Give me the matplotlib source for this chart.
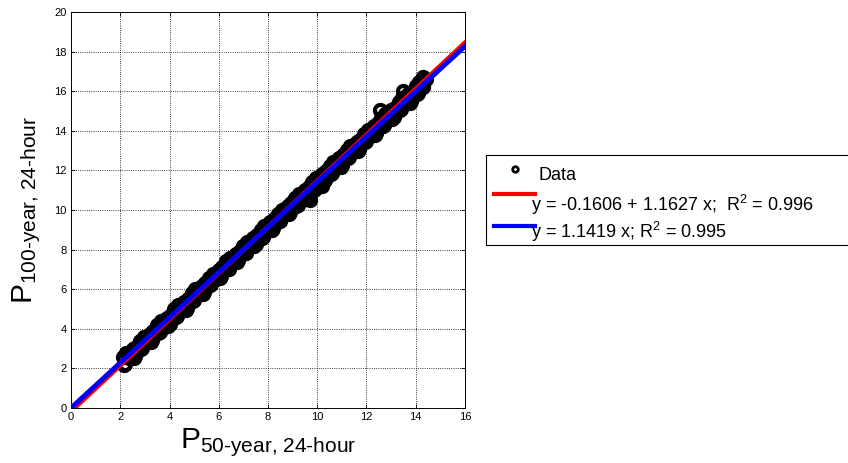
import numpy as np
import matplotlib
matplotlib.use('Agg')
import matplotlib.pyplot as plt
from matplotlib.lines import Line2D
from matplotlib.patches import Rectangle

plt.rcParams['font.family'] = ['Liberation Sans', 'DejaVu Sans']
plt.rcParams['mathtext.fontset'] = 'custom'
plt.rcParams['mathtext.rm'] = 'Liberation Sans'
plt.rcParams['mathtext.it'] = 'Liberation Sans'

# scatter data (50-year vs 100-year, 24-hour)
p50_a = [2.1, 2.2, 2.3, 2.4, 2.5, 2.6, 2.7, 2.8, 2.9, 3.0, 3.1, 3.2, 3.3, 3.4, 3.5, 3.6,
         3.7, 3.8, 3.9, 4.0, 4.1, 4.2, 4.3, 4.4, 4.5, 4.6, 4.7, 4.8, 4.9, 5.0, 5.1, 5.2,
         5.3, 5.4, 5.5, 5.6, 5.7, 5.8, 5.9, 6.0, 6.1, 6.2, 6.3, 6.4, 6.5, 6.6, 6.7, 6.8,
         6.9, 7.0, 7.1, 7.2, 7.3, 7.4, 7.5, 7.6, 7.7, 7.8, 7.9, 8.0, 8.1, 8.2, 8.3, 8.4,
         8.5, 8.6, 8.7, 8.8, 8.9, 9.0, 9.1, 9.2, 9.3, 9.4, 9.5, 9.6, 9.7, 9.8, 9.9, 10.0,
         10.1, 10.2, 10.3, 10.4, 10.5, 10.6, 10.7, 10.8, 10.9, 11.0, 11.1, 11.2, 11.3, 11.4,
         11.5, 11.6, 11.7, 11.8, 11.9, 12.0, 12.1, 12.2, 12.3, 12.4, 12.5, 12.6, 12.7, 12.8,
         12.9, 13.0, 13.1, 13.2, 13.3, 13.4, 13.5, 13.6, 13.7, 13.8, 13.9, 14.0, 14.1, 14.2,
         14.3, 14.4, 12.55, 14.3, 13.5, 9.7, 10.2]
p100_a = [2.57, 2.21, 2.61, 2.54, 2.96, 2.63, 3.01, 3.37, 3.02, 3.41, 3.35, 3.76, 3.44, 3.81,
          4.18, 3.82, 4.22, 4.15, 4.57, 4.24, 4.62, 4.98, 4.63, 5.02, 4.96, 5.37, 5.05, 5.42,
          5.79, 5.43, 5.83, 5.76, 6.18, 5.85, 6.23, 6.59, 6.24, 6.63, 6.57, 6.98, 6.66, 7.03,
          7.40, 7.04, 7.44, 7.37, 7.79, 7.46, 7.84, 8.20, 7.85, 8.24, 8.18, 8.59, 8.27, 8.64,
          9.01, 8.65, 9.05, 8.98, 9.40, 9.07, 9.45, 9.81, 9.46, 9.85, 9.79, 10.20, 9.88, 10.25,
          10.62, 10.26, 10.66, 10.59, 11.01, 10.68, 11.06, 11.42, 11.07, 11.46, 11.40, 11.81,
          11.49, 11.86, 12.23, 11.87, 12.27, 12.20, 12.62, 12.29, 12.67, 13.03, 12.68, 13.07,
          13.01, 13.42, 13.10, 13.47, 13.84, 13.48, 13.88, 13.81, 14.23, 13.90, 14.28, 14.64,
          14.29, 14.68, 14.62, 15.03, 14.71, 15.08, 15.45, 15.09, 15.49, 15.42, 15.84, 15.51,
          15.89, 16.25, 15.90, 16.29, 16.23, 16.64, 15.05, 16.70, 16.00, 10.50, 11.20]
p50_b = [2.15, 2.25, 2.35, 2.45, 2.55, 2.65, 2.75, 2.85, 2.95, 3.05, 3.15, 3.25, 3.35, 3.45,
         3.55, 3.65, 3.75, 3.85, 3.95, 4.05, 4.15, 4.25, 4.35, 4.45, 4.55, 4.65, 4.75, 4.85,
         4.95, 5.05, 5.15, 5.25, 5.35, 5.45, 5.55, 5.65, 5.75, 5.85, 5.95, 6.05, 6.15, 6.25,
         6.35, 6.45, 6.55, 6.65, 6.75, 6.85, 6.95, 7.05, 7.15, 7.25, 7.35, 7.45, 7.55, 7.65,
         7.75, 7.85, 7.95, 8.05, 8.15, 8.25, 8.35, 8.45, 8.55, 8.65, 8.75, 8.85, 8.95, 9.05,
         9.15, 9.25, 9.35, 9.45, 9.55, 9.65, 9.75, 9.85, 9.95, 10.05, 10.15, 10.25, 10.35,
         10.45, 10.55, 10.65, 10.75, 10.85, 10.95, 11.05, 11.15, 11.25, 11.35, 11.45, 11.55,
         11.65, 11.75, 11.85, 11.95, 12.05, 12.15, 12.25, 12.35, 12.45, 12.55, 12.65, 12.75,
         12.85, 12.95, 13.05, 13.15, 13.25, 13.35, 13.45, 13.55, 13.65, 13.75, 13.85, 13.95,
         14.05, 14.15, 14.25, 14.35]
p100_b = [2.17, 2.77, 2.55, 2.84, 2.53, 3.10, 2.96, 2.98, 3.57, 3.36, 3.64, 3.34, 3.90, 3.77,
          3.78, 4.38, 4.16, 4.45, 4.14, 4.71, 4.57, 4.59, 5.18, 4.97, 5.25, 4.95, 5.51, 5.38,
          5.39, 5.99, 5.77, 6.06, 5.75, 6.32, 6.18, 6.20, 6.79, 6.58, 6.86, 6.56, 7.12, 6.99,
          7.00, 7.60, 7.38, 7.67, 7.36, 7.93, 7.79, 7.81, 8.40, 8.19, 8.47, 8.17, 8.73, 8.60,
          8.61, 9.21, 8.99, 9.28, 8.97, 9.54, 9.40, 9.42, 10.01, 9.80, 10.08, 9.78, 10.34, 10.21,
          10.22, 10.82, 10.60, 10.89, 10.58, 11.15, 11.01, 11.03, 11.62, 11.41, 11.69, 11.39,
          11.95, 11.82, 11.83, 12.43, 12.21, 12.50, 12.19, 12.76, 12.62, 12.64, 13.23, 13.02,
          13.30, 13.00, 13.56, 13.43, 13.44, 14.04, 13.82, 14.11, 13.80, 14.37, 14.23, 14.25,
          14.84, 14.63, 14.91, 14.61, 15.17, 15.04, 15.05, 15.65, 15.43, 15.72, 15.41, 15.98,
          15.84, 15.86, 16.45, 16.24, 16.52]
p50 = p50_a + p50_b
p100 = p100_a + p100_b

# fitted lines
fit_a, fit_b = -0.1606, 1.1627
fit0_b = 1.1419
x_line = np.array([0, 16])

labels = ['Data', 'y = -0.1606 + 1.1627 x;  R$^2$ = 0.996', 'y = 1.1419 x; R$^2$ = 0.995']

W, H = 848, 463
fig = plt.figure(figsize=(W / 100, H / 100), dpi=100)
ax = fig.add_axes([71 / W, 1 - 408 / H, 394 / W, 396 / H])

ax.plot(p50, p100, 'o', mfc='none', mec='black', ms=8, mew=3, zorder=2)
ax.plot(x_line, fit_a + fit_b * x_line, color='red', lw=3.5, zorder=3)
ax.plot(x_line, fit0_b * x_line, color='blue', lw=3.5, zorder=4)

ax.set_xlim(0, 16)
ax.set_ylim(0, 20)
ax.set_xticks(np.arange(0, 17, 2))
ax.set_yticks(np.arange(0, 21, 2))
ax.tick_params(direction='in', top=True, right=True, labelsize=8, length=3,
               width=0.6, pad=3)
ax.grid(True, color='black', linestyle=':', linewidth=0.6)
for s in ax.spines.values():
    s.set_linewidth(0.7)

ax.set_xlabel(r'$\mathregular{P}_{\text{50-year, 24-hour}}$', fontsize=21.5, labelpad=3)
ax.set_ylabel(r'$\mathregular{P}_{\text{100-year, 24-hour}}$', fontsize=21.5, labelpad=8)

# legend drawn by hand, MATLAB style (box runs off the right edge)
def fx(px):
    return px / W

def fy(py):
    return 1 - py / H

fig.add_artist(Rectangle((fx(486), fy(245)), fx(420), 90 / H, transform=fig.transFigure,
                         fill=False, edgecolor='black', lw=0.8))
fig.add_artist(Line2D([fx(515)], [fy(169)], transform=fig.transFigure, marker='o',
                      mfc='none', mec='black', ms=4, mew=2))
fig.add_artist(Line2D([fx(494), fx(535)], [fy(194), fy(194)], transform=fig.transFigure,
                      color='red', lw=3))
fig.add_artist(Line2D([fx(494), fx(535)], [fy(226), fy(226)], transform=fig.transFigure,
                      color='blue', lw=3))
fig.text(fx(539), fy(175), labels[0], fontsize=13, va='center')
fig.text(fx(531), fy(205), labels[1], fontsize=13, va='center')
fig.text(fx(531), fy(232), labels[2], fontsize=13, va='center')

fig.savefig('out.png', dpi=100)
